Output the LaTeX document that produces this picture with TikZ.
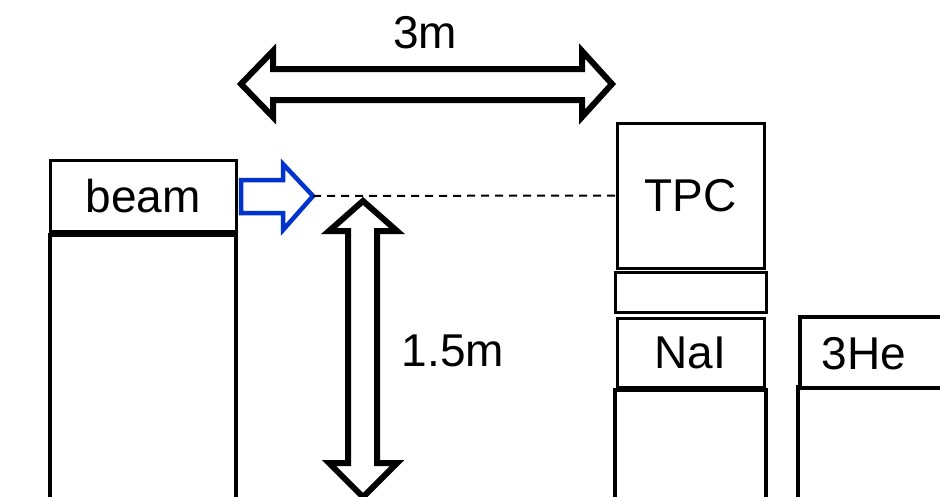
\documentclass[tikz,border=0pt]{standalone}
\usepackage{fontspec}
\setmainfont{Liberation Sans}
\begin{document}
\begin{tikzpicture}[x=1pt,y=-1pt,
  boxstyle/.style={draw=black,line width=3pt,minimum width=#1,inner sep=0pt,font=\fontsize{46}{50}\selectfont},
  openstyle/.style={draw=black,line width=3.5pt,line join=miter},
  bigarrow/.style={draw=black,line width=6pt,line join=miter,miter limit=10},
  bluearrow/.style={draw={rgb,255:red,0;green,51;blue,204},line width=4.5pt,line join=miter,miter limit=10},
  lbl/.style={font=\fontsize{46}{50}\selectfont,inner sep=0pt}]
\useasboundingbox (0,0) rectangle (940,496);
% beam
\node[boxstyle=186pt,minimum height=71pt] (beam) at (143,196) {beam};
\draw[openstyle] (50,505) -- (50,235) -- (236,235) -- (236,505);
% detectors
\node[boxstyle=147pt,minimum height=145pt] (tpc) at (690.5,195.5) {TPC};
\node[boxstyle=151pt,minimum height=40pt] (gap) at (690.5,292.5) {};
\node[boxstyle=147pt,minimum height=69pt] (nai) at (690.5,352.5) {NaI};
\draw[openstyle] (615,505) -- (615,390) -- (766,390) -- (766,505);
\draw[openstyle] (945,317) -- (800,317) -- (800,388) -- (945,388);
\node[lbl] (he) at (864,354) {3He};
\draw[openstyle] (798,385) -- (798,505);
% blue beam arrow
\coordinate (tip) at (313,196);
\draw[bluearrow] (241,180) -- (283,180) -- (283,164) -- (tip) -- (283,230) -- (283,213) -- (241,213) -- cycle;
\draw[line width=2pt,dash pattern=on 8pt off 6pt] (tip) -- (tpc.west);
% horizontal double arrow
\draw[bigarrow] (241,84) -- (273,51) -- (273,69) -- (582,69) -- (582,51) -- (612,84) -- (582,117) -- (582,100) -- (273,100) -- (273,117) -- cycle;
\node[lbl] (three) at (425,33) {3m};
% vertical double arrow
\draw[bigarrow] (363,201) -- (397,231) -- (377,231) -- (377,463) -- (397,463) -- (363,497) -- (329,463) -- (348,463) -- (348,231) -- (329,231) -- cycle;
\node[lbl] (onefive) at (453,351) {1.5m};
\end{tikzpicture}
\end{document}
